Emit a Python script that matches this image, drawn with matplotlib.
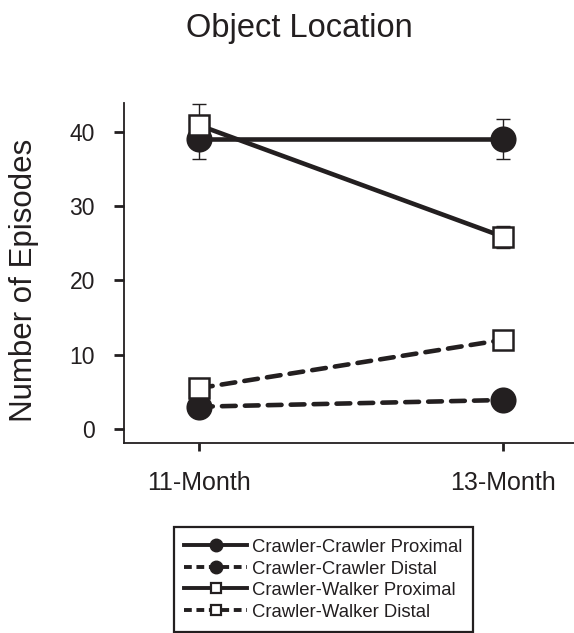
import matplotlib
matplotlib.use("Agg")
import matplotlib.pyplot as plt
from matplotlib.lines import Line2D

plt.rcParams['font.family'] = ['Liberation Sans', 'DejaVu Sans']

ages = ["11-Month", "13-Month"]
series_names = ["Crawler-Crawler Proximal", "Crawler-Crawler Distal",
                "Crawler-Walker Proximal", "Crawler-Walker Distal"]
cc_prox = [39.0, 39.0]
cc_prox_err = [2.7, 2.7]
cc_dist = [3.0, 3.9]
cc_dist_err = [0.8, 0.8]
cw_prox = [40.9, 25.9]
cw_prox_err = [2.9, 1.5]
cw_dist = [5.5, 12.0]
cw_dist_err = [0.8, 0.8]
yticks = [0, 10, 20, 30, 40]

ink = '#231f20'
fig = plt.figure(figsize=(5.74, 6.33), dpi=100)
ax = fig.add_axes([124/574, 190/633, 450/574, 340/633])

x = list(range(len(ages)))
dash = (0, (3.0, 2.0))

def draw(vals, errs, ls, marker, face, ms, z):
    ax.errorbar(x, vals, yerr=errs, fmt='none', ecolor=ink, elinewidth=1.0,
                capsize=5, capthick=1.0, zorder=z - 0.5)
    ax.plot(x, vals, linestyle=ls, color=ink, linewidth=3.3, marker=marker,
            markersize=ms, markerfacecolor=face, markeredgecolor=ink,
            markeredgewidth=1.8, zorder=z, solid_capstyle='butt',
            dash_capstyle='round')

draw(cc_prox, cc_prox_err, '-', 'o', ink, 17, 3)
draw(cc_dist, cc_dist_err, dash, 'o', ink, 17, 3)
draw(cw_prox, cw_prox_err, '-', 's', 'white', 15, 4)
draw(cw_dist, cw_dist_err, dash, 's', 'white', 15, 4)

ax.set_xlim(-0.247, 1.234)
ax.set_ylim(-1.89, 43.9)
ax.set_xticks(x)
ax.set_xticklabels(ages, fontsize=18, color=ink)
ax.set_yticks(yticks)
ax.set_yticklabels([str(v) for v in yticks], fontsize=16.5, color=ink)
ax.tick_params(axis='y', direction='out', length=7, width=2, color=ink, pad=14)
ax.tick_params(axis='x', direction='out', length=6, width=2, color=ink, pad=14)
for s in ['top', 'right']:
    ax.spines[s].set_visible(False)
for s in ['left', 'bottom']:
    ax.spines[s].set_linewidth(1.3)
    ax.spines[s].set_color(ink)

fig.text(24/574, 1 - 280/633, "Number of Episodes", rotation=90,
         ha='center', va='center', fontsize=22.5, color=ink)
fig.text(299/574, 1 - 37/633, "Object Location", ha='center', va='baseline',
         fontsize=23.5, color=ink)

handles = [
    Line2D([], [], color=ink, lw=2.8, ls='-', marker='o', ms=9,
           mfc=ink, mec=ink),
    Line2D([], [], color=ink, lw=2.8, ls=(0, (2.0, 1.2)), marker='o', ms=9,
           mfc=ink, mec=ink),
    Line2D([], [], color=ink, lw=2.8, ls='-', marker='s', ms=7.5,
           mfc='white', mec=ink, mew=1.6),
    Line2D([], [], color=ink, lw=2.8, ls=(0, (2.0, 1.2)), marker='s', ms=7.5,
           mfc='white', mec=ink, mew=1.6),
]
leg = fig.legend(handles, series_names, loc='upper center',
                 bbox_to_anchor=(323.5/574, 1 - 527/633), fontsize=13.3,
                 frameon=True, fancybox=False, edgecolor=ink, framealpha=1,
                 handlelength=3.4, handleheight=1.0, handletextpad=0.27,
                 labelspacing=0.16, borderpad=0.58, borderaxespad=0,
                 labelcolor=ink)
leg.get_frame().set_linewidth(1.6)

fig.savefig("out.png", dpi=100)
